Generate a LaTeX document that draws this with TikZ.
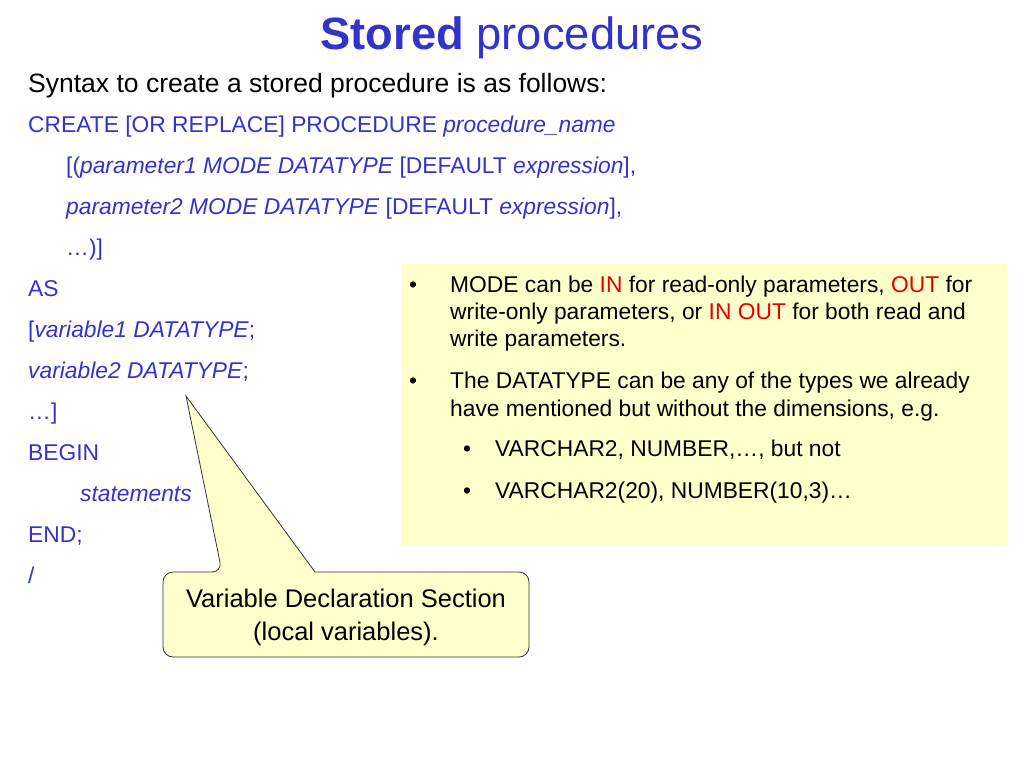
\documentclass[tikz,border=0pt]{standalone}
\usepackage{fontspec}
\setmainfont{Liberation Sans}
\usepackage{xcolor}
\definecolor{codeblue}{RGB}{51,51,204}
\definecolor{notered}{RGB}{230,0,0}
\definecolor{noteyellow}{RGB}{255,255,204}

\begin{document}
\begin{tikzpicture}[x=1pt,y=-1pt,
    code/.style={anchor=base west,inner sep=0pt,text=codeblue,font=\fontsize{22.8}{27}\selectfont},
    note/.style={anchor=base west,inner sep=0pt,font=\fontsize{22.8}{27}\selectfont},
    callout/.style={fill=noteyellow,draw=black!80,line width=0.8pt,line join=miter}]
	    \fill[white] (0,0) rectangle (1024,768);
	    \useasboundingbox (0,0) rectangle (1024,768);
	    \node[anchor=base,inner sep=0pt,text=codeblue,font=\fontsize{45.3}{54}\selectfont] (title) at (512,49) {\textbf{Stored} procedures}; % title
	    \node[anchor=base west,inner sep=0pt,font=\fontsize{26.5}{32}\selectfont] (syntax) at (28,92) {Syntax to create a stored procedure is as follows:};
	    % syntax lines
	    \node[code] (create) at (28,132) {CREATE [OR REPLACE] PROCEDURE \textit{procedure\_name}};
	    \node[code] (param1) at (66,173) {[(\textit{parameter1 MODE DATATYPE} [DEFAULT \textit{expression}],};
	    \node[code] (param2) at (66,214) {\textit{parameter2 MODE DATATYPE} [DEFAULT \textit{expression}],};
	    \node[code] (paramend) at (66,255) {…)]};
	    \node[code] (as) at (28,296) {AS};
	    \node[code] (var1) at (28,337) {[\textit{variable1 DATATYPE};};
	    \node[code] (var2) at (28,378) {\textit{variable2 DATATYPE};};
	    \node[code] (varend) at (28,419) {…]};
	    \node[code] (begin) at (28,460) {BEGIN};
	    \node[code] (stmts) at (80,501) {\textit{statements}};
	    \node[code] (end) at (28,542) {END;};
	    \node[code] (slash) at (28,583) {/};
	    % note box
	    \fill[noteyellow] (401,264) rectangle (1007,546);
	    \node[note] (b1) at (409,292) {•};
	    \node[note] (n1a) at (450,292) {MODE can be \textcolor{notered}{IN} for read-only parameters, \textcolor{notered}{OUT} for};
	    \node[note] (n1b) at (450,319) {write-only parameters, or \textcolor{notered}{IN OUT} for both read and};
	    \node[note] (n1c) at (450,346) {write parameters.};
	    \node[note] (b2) at (409,388) {•};
	    \node[note] (n2a) at (450,388) {The DATATYPE can be any of the types we already};
	    \node[note] (n2b) at (450,416) {have mentioned but without the dimensions, e.g.};
	    \node[note] (b3) at (463,456) {•};
	    \node[note] (n3) at (495,456) {VARCHAR2, NUMBER,…, but not};
	    \node[note] (b4) at (463,498) {•};
	    \node[note] (n4) at (495,498) {VARCHAR2(20), NUMBER(10,3)…};
	    % callout
	    \coordinate (tip) at (186,396);
	    \draw[callout] (222,572) -- (tip) -- (315,572) [rounded corners=10pt] -- (529,572) -- (529,657) -- (163,657) -- (163,572) -- cycle;
	    \node[align=center,inner sep=0pt,font=\fontsize{25.5}{33}\selectfont] (calltext) at (346,617) {Variable Declaration Section\\(local variables).};
	    \end{tikzpicture}
\end{document}
